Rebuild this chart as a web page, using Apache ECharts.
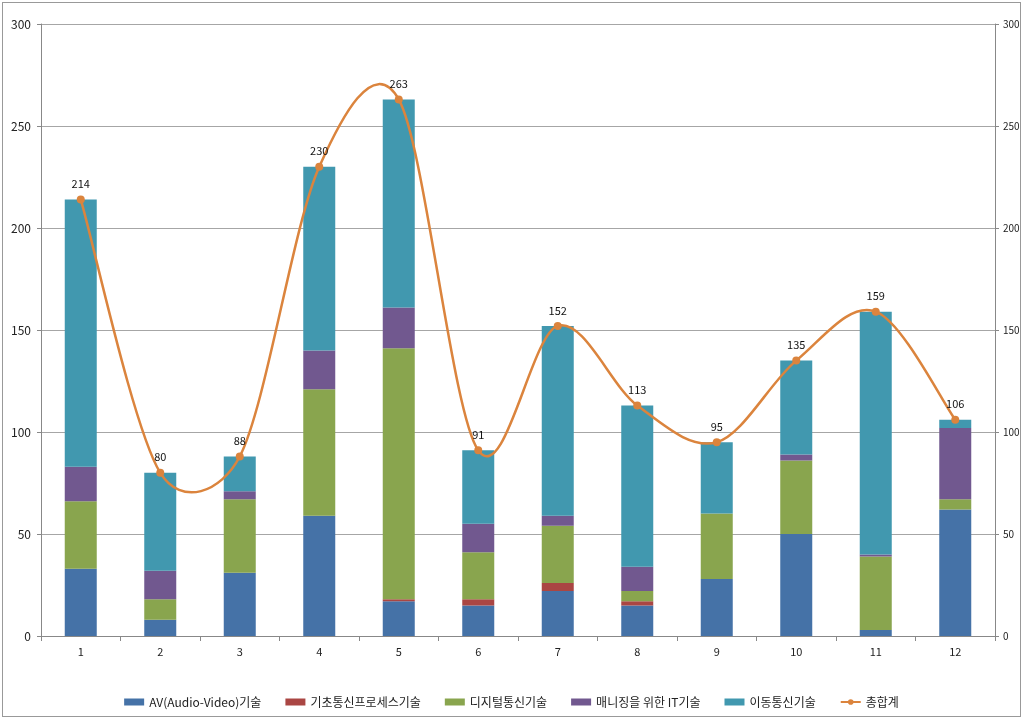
<!DOCTYPE html>
<html><head><meta charset="utf-8">
<script src="https://cdn.jsdelivr.net/npm/echarts@6/dist/echarts.min.js"></script>
<style>html,body{margin:0;padding:0;background:#fff}#c{width:1023px;height:719px}</style>
</head><body><div id="c"></div>
<script>
const categories = ['1','2','3','4','5','6','7','8','9','10','11','12'];
const seriesNames = ['AV(Audio-Video)기술','기초통신프로세스기술','디지털통신기술','매니징을 위한 IT기술','이동통신기술','총합계'];
const avValues      = [33, 8, 31, 59, 17, 15, 22, 15, 28, 50, 3, 62];
const basicValues   = [0, 0, 0, 0, 1, 3, 4, 2, 0, 0, 0, 0];
const digitalValues = [33, 10, 36, 62, 123, 23, 28, 5, 32, 36, 36, 5];
const itValues      = [17, 14, 4, 19, 20, 14, 5, 12, 0, 3, 1, 35];
const mobileValues  = [131, 48, 17, 90, 102, 36, 93, 79, 35, 46, 119, 4];
const totalValues   = [214, 80, 88, 230, 263, 91, 152, 113, 95, 135, 159, 106];
const yTicks = [0, 50, 100, 150, 200, 250, 300];

const colors = ['#4572A7','#AA4643','#89A54E','#71588F','#4198AF','#DB843D'];
const barData = [avValues, basicValues, digitalValues, itValues, mobileValues];
const chart = echarts.init(document.getElementById('c'));
const barSeries = barData.map((d, i) => ({
  name: seriesNames[i], type: 'bar', stack: 'a', data: d, barWidth: 32,
  itemStyle: { color: colors[i] }
}));

// Excel-like smoothed curve path through the totals (pixel coords from the axes)
function excelSmoothPath(pts) {
  const dist = (a, b) => Math.hypot(a[0] - b[0], a[1] - b[1]);
  let d = 'M' + pts[0][0] + ',' + pts[0][1];
  const n = pts.length;
  for (let i = 0; i < n - 1; i++) {
    const p0 = pts[Math.max(0, i - 1)], p1 = pts[i], p2 = pts[i + 1], p3 = pts[Math.min(n - 1, i + 2)];
    const d12 = dist(p1, p2), d02 = dist(p0, p2), d13 = dist(p1, p3);
    let f1 = 1 / 6, f2 = 1 / 6;
    if (d02 / 6 > d12 / 2) f1 = d12 / (2 * d02);
    if (d13 / 6 > d12 / 2) f2 = d12 / (2 * d13);
    const c1 = [p1[0] + f1 * (p2[0] - p0[0]), p1[1] + f1 * (p2[1] - p0[1])];
    const c2 = [p2[0] - f2 * (p3[0] - p1[0]), p2[1] - f2 * (p3[1] - p1[1])];
    d += 'C' + c1[0] + ',' + c1[1] + ',' + c2[0] + ',' + c2[1] + ',' + p2[0] + ',' + p2[1];
  }
  return d;
}

chart.setOption({
  animation: false,
  textStyle: { fontFamily: '"Noto Sans CJK KR", "Noto Sans", sans-serif' },
  grid: { left: 41, right: 28, top: 24, bottom: 83 },
  legend: {
    bottom: 6, left: 'center', itemGap: 24, itemWidth: 20, itemHeight: 7,
    textStyle: { fontSize: 12, color: '#222', fontFamily: '"Noto Sans CJK KR", sans-serif' },
    data: seriesNames.map((n, i) => i === 5
      ? { name: n, itemStyle: { color: colors[5], opacity: 1 }, lineStyle: { color: colors[5], width: 2, opacity: 1 } }
      : { name: n, icon: 'rect' })
  },
  xAxis: {
    type: 'category', data: categories, boundaryGap: true,
    axisLine: { lineStyle: { color: '#888' } },
    axisTick: { show: true, alignWithLabel: false, lineStyle: { color: '#888' } },
    axisLabel: { color: '#222', fontSize: 11, margin: 10 }
  },
  yAxis: [
    { type: 'value', min: 0, max: 300, interval: 50,
      axisLine: { show: true, lineStyle: { color: '#888' } },
      axisTick: { show: true, inside: false, length: 4, lineStyle: { color: '#888' } },
      splitLine: { lineStyle: { color: '#A6A6A6' } },
      axisLabel: { color: '#222', fontSize: 12, margin: 10 } },
    { type: 'value', min: 0, max: 300, interval: 50, position: 'right',
      axisLine: { show: true, lineStyle: { color: '#888' } },
      axisTick: { show: true, length: 4, lineStyle: { color: '#888' } },
      splitLine: { show: false },
      axisLabel: { color: '#222', fontSize: 10, margin: 8 } }
  ],
  series: barSeries.concat([
    {
      type: 'custom', name: 'curve', z: 9, silent: true,
      data: totalValues.map((v, i) => [i, v]),
      encode: { x: 0, y: 1 },
      renderItem: function (params, api) {
        if (params.dataIndex !== 0) return null;
        const pts = totalValues.map((v, i) => api.coord([i, v]));
        return { type: 'path', shape: { pathData: excelSmoothPath(pts) },
          style: { fill: 'none', stroke: colors[5], lineWidth: 2.5 } };
      }
    },
    {
      name: seriesNames[5], type: 'line', data: totalValues,
      symbol: 'circle', symbolSize: 8, z: 10,
      lineStyle: { color: colors[5], width: 2.5, opacity: 0 },
      itemStyle: { color: colors[5] },
      label: { show: true, position: 'top', color: '#111', fontSize: 11, distance: 6 }
    }
  ])
});
</script>
<div style="position:absolute;left:2px;top:2px;width:1017px;height:713px;border:1px solid #999;pointer-events:none"></div>
</body></html>
